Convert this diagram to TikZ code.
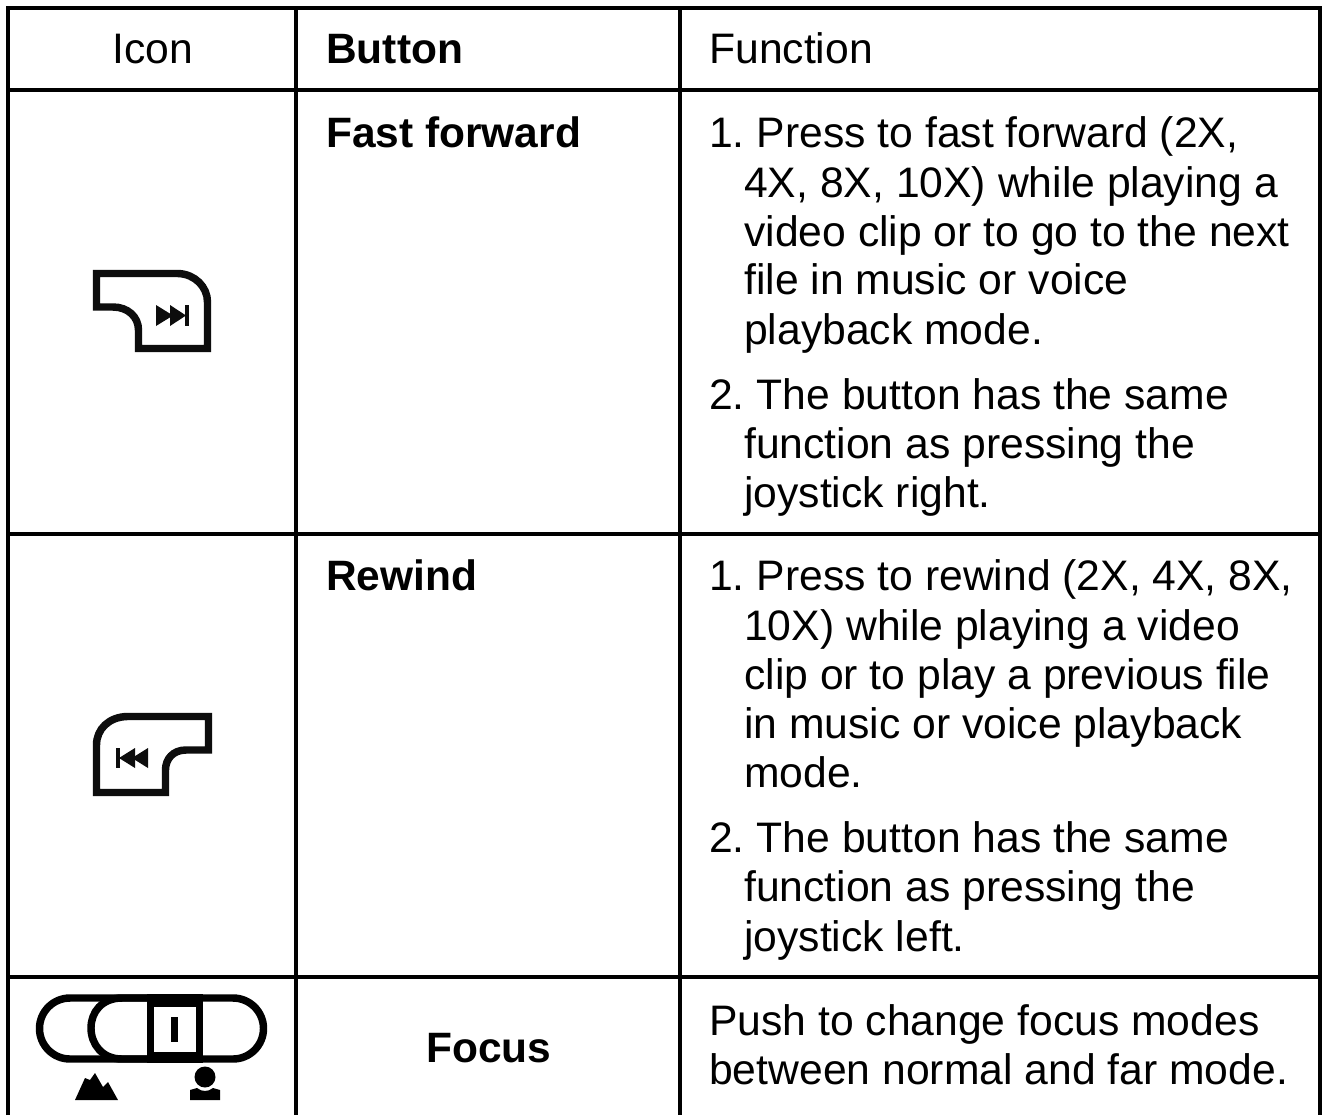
\documentclass[tikz,border=0pt]{standalone}
\usepackage{fontspec}
\setmainfont{Liberation Sans}
\tikzset{x=0.75pt,y=-0.75pt,
 grid/.style={draw=black,line width=3pt},
 txt/.style={anchor=base west,inner sep=0pt,yshift=-0.4pt,font=\fontsize{32pt}{36pt}\selectfont,text=black},
 bld/.style={txt,font=\fontsize{31.85pt}{36pt}\selectfont\bfseries},
 icon/.style={draw=black!95,line width=5.6pt,line join=miter,fill=none},
 iconthin/.style={draw=black,line width=5.6pt},
 glyph/.style={fill=black!95,draw=none}}
\begin{document}
\begin{tikzpicture}
\useasboundingbox (0,0) rectangle (1322,1115);
\fill[white] (0,0) rectangle (1322,1115);
% grid
\draw[grid] (7.5,1115) -- (7.5,7.5) -- (1320,7.5) -- (1320,1115);
\draw[grid] (295.5,7.5) -- (295.5,1115);
\draw[grid] (679.5,7.5) -- (679.5,1115);
\draw[grid] (7.5,90) -- (1320,90);
\draw[grid] (7.5,534) -- (1320,534);
\draw[grid] (7.5,976.5) -- (1320,976.5);
% header
\node[txt] (h1) at (112,63) {Icon};
\node[bld] (h2) at (326,63) {Button};
\node[txt] (h3) at (709,63) {Function};
% row 1
\node[bld] (b1) at (326,147) {Fast forward};
\node[txt] (t1) at (709,147) {1.\hspace{9pt}Press to fast forward (2X,};
\node[txt] (t2) at (744,197) {4X, 8X, 10X) while playing a};
\node[txt] (t3) at (744,246) {video clip or to go to the next};
\node[txt] (t4) at (744,294) {file in music or voice};
\node[txt] (t5) at (744,344) {playback mode.};
\node[txt] (t6) at (709,409) {2.\hspace{9pt}The button has the same};
\node[txt] (t7) at (744,458) {function as pressing the};
\node[txt] (t8) at (744,507) {joystick right.};
% row 2
\node[bld] (b2) at (326,590) {Rewind};
\node[txt] (u1) at (709,590) {1.\hspace{9pt}Press to rewind (2X, 4X, 8X,};
\node[txt] (u2) at (744,640) {10X) while playing a video};
\node[txt] (u3) at (744,689) {clip or to play a previous file};
\node[txt] (u4) at (744,738) {in music or voice playback};
\node[txt] (u5) at (744,787) {mode.};
\node[txt] (u6) at (709,852) {2.\hspace{9pt}The button has the same};
\node[txt] (u7) at (744,901) {function as pressing the};
\node[txt] (u8) at (744,951) {joystick left.};
% row 3
\node[bld] (b3) at (426,1062) {Focus};
\node[txt] (v1) at (709,1035) {Push to change focus modes};
\node[txt] (v2) at (709,1084) {between normal and far mode.};
% fast forward icon
\draw[icon] (96.5,273.5) -- (178,273.5) .. controls (195,274) and (207.5,287) .. (207.5,302) -- (207.5,348.5) -- (138.5,348.5) -- (138.5,330) .. controls (138.5,317) and (128,307) .. (113,307) -- (96.5,307) -- cycle;
\fill[glyph] (156,305) -- (156,326) -- (173,315.5) -- cycle;
\fill[glyph] (170,305) -- (170,326) -- (186,315.5) -- cycle;
\fill[glyph] (185,305) rectangle (188.5,326);
% rewind icon
\draw[icon] (208.5,716.5) -- (127,716.5) .. controls (109,717) and (96.5,729) .. (96.5,745) -- (96.5,792.5) -- (165.5,792.5) -- (165.5,770) .. controls (165.5,759) and (173,750) .. (186,750) -- (208.5,750) -- cycle;
\fill[glyph] (116,748) rectangle (120,768);
\fill[glyph] (119,758) -- (135,748) -- (135,768) -- cycle;
\fill[glyph] (132,758) -- (148,748) -- (148,768) -- cycle;
% focus slider
\draw[iconthin] (70,998) -- (233,998) arc[start angle=-90,end angle=90,radius=30.5] -- (70,1059) arc[start angle=90,end angle=270,radius=30.5] -- cycle;
\draw[iconthin] (147,998) -- (122,998) .. controls (102,998) and (91,1012) .. (91,1028) .. controls (91,1044) and (102,1059) .. (122,1059) -- (147,1059);
\fill[black] (147,994) rectangle (203,1063);
\fill[white] (153.5,1007) rectangle (196,1052);
\fill[black] (171,1017) rectangle (178,1042);
% mountain
\fill[black] (75,1100) -- (85,1078) -- (90,1080) -- (95,1073) -- (103,1087) -- (108,1082) -- (118,1100) -- cycle;
% person
\fill[black] (205,1077) circle (10.5);
\fill[black] (190,1100) -- (190,1090) -- (197,1088) .. controls (202,1092) and (208,1092) .. (213,1088) -- (220,1090) -- (220,1100) -- cycle;
\end{tikzpicture}
\end{document}
